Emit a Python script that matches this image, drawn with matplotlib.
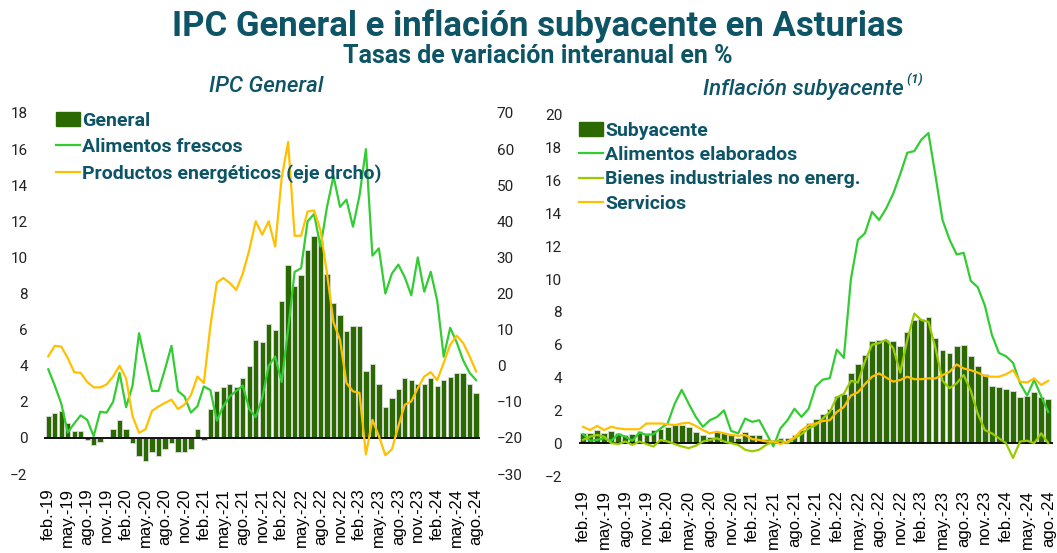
import numpy as np
import matplotlib
matplotlib.use("Agg")
import matplotlib.pyplot as plt
from matplotlib import font_manager
from matplotlib.patches import Patch
from matplotlib.lines import Line2D

# ---------------------------------------------------------------------------
# datos: tasas de variacion interanual (%), feb-19 .. ago-24 (67 meses)
# ---------------------------------------------------------------------------
TICK_LABELS = ["feb.-19", "may.-19", "ago.-19", "nov.-19",
               "feb.-20", "may.-20", "ago.-20", "nov.-20",
               "feb.-21", "may.-21", "ago.-21", "nov.-21",
               "feb.-22", "may.-22", "ago.-22", "nov.-22",
               "feb.-23", "may.-23", "ago.-23", "nov.-23",
               "feb.-24", "may.-24", "ago.-24"]

GENERAL = [1.2, 1.4, 1.5, 0.8, 0.4, 0.4, -0.1, -0.4, -0.2, 0.0, 0.5, 1.0,
           0.5, -0.3, -1.0, -1.3, -0.8, -1.0, -0.6, -0.3, -0.8, -0.8, -0.6, 0.5,
           -0.1, 1.6, 2.6, 2.8, 3.0, 2.8, 3.3, 4.0, 5.4, 5.3, 6.3, 6.0,
           7.6, 9.6, 8.4, 9.0, 10.4, 11.2, 10.9, 9.1, 7.5, 6.8, 5.9, 6.2,
           6.2, 3.7, 4.1, 3.0, 1.7, 2.2, 2.7, 3.3, 3.2, 3.0, 3.0, 3.3,
           2.9, 3.2, 3.4, 3.6, 3.6, 3.0, 2.5]

ALIM_FRESCOS = [3.8, 2.9, 1.9, 0.3, 0.8, 1.25, 1.0, 0.1, 1.45, 1.4, 2.0, 3.6,
                1.7, 2.9, 5.8, 4.2, 2.6, 2.6, 3.8, 5.1, 2.6, 2.3, 1.4, 1.75,
                2.85, 2.65, 0.95, 1.75, 2.3, 2.6, 2.9, 1.6, 1.15, 2.2, 4.0, 4.5,
                3.1, 6.0, 9.2, 9.4, 12.0, 12.4, 10.6, 12.8, 14.5, 12.8, 13.2, 11.7,
                13.4, 16.0, 10.1, 10.5, 8.0, 9.1, 9.6, 8.9, 7.9, 10.0, 8.1, 9.2,
                7.6, 4.5, 6.1, 5.3, 4.3, 3.6, 3.2]

ENERGIA = [2.6, 5.5, 5.3, 2.1, -1.8, -2.0, -4.5, -6.0, -6.0, -5.2, -3.0, 0.0,
           -3.5, -14.0, -18.6, -17.6, -12.5, -11.3, -10.3, -9.4, -12.0, -10.8, -8.2, -3.0,
           -4.8, 10.9, 23.0, 24.3, 22.9, 21.0, 25.5, 32.0, 40.0, 36.3, 40.0, 33.0,
           52.0, 62.0, 36.0, 36.0, 42.7, 43.0, 37.5, 25.5, 12.0, 7.2, -4.8, -7.1,
           -7.5, -24.6, -15.0, -19.5, -24.8, -23.2, -16.8, -10.8, -9.9, -6.2, -3.0, -1.8,
           -4.0, 0.8, 5.8, 8.3, 6.3, 2.6, -1.6]

SUBYACENTE = [0.6, 0.6, 0.8, 0.6, 0.75, 0.65, 0.5, 0.55, 0.75, 0.65, 0.8, 0.85,
              1.0, 1.1, 1.1, 1.0, 0.7, 0.5, 0.4, 0.7, 0.6, 0.5, 0.3, 0.7,
              0.5, 0.5, 0.25, 0.2, 0.3, 0.3, 0.5, 0.8, 1.2, 1.5, 1.8, 2.1,
              2.9, 3.0, 4.3, 4.8, 5.4, 6.2, 6.3, 6.3, 6.2, 5.9, 6.8, 7.5,
              7.55, 7.7, 6.4, 5.7, 5.5, 5.9, 6.0, 5.3, 4.7, 4.2, 3.5, 3.4,
              3.3, 3.2, 2.8, 2.85, 3.1, 2.8, 2.7]

ALIM_ELABORADOS = [0.55, 0.15, 0.2, 0.3, 0.15, 0.55, 0.4, 0.15, 0.65, 0.5, 0.55, 0.9,
                   1.2, 2.4, 3.25, 2.4, 1.6, 1.0, 1.4, 1.6, 2.0, 0.75, 0.6, 1.5,
                   1.3, 1.4, 0.6, -0.2, 0.9, 1.4, 2.1, 1.6, 2.1, 3.45, 3.87, 3.96,
                   5.7, 5.2, 10.0, 12.4, 12.8, 14.1, 13.6, 14.3, 15.2, 16.4, 17.7, 17.8,
                   18.5, 18.9, 16.3, 13.6, 12.4, 11.5, 11.6, 9.9, 9.5, 8.4, 6.6, 5.5,
                   5.3, 4.9, 3.65, 2.9, 3.85, 2.85, 1.9]

BIENES_IND = [0.2, 0.4, 0.5, 0.4, 0.0, -0.05, 0.1, -0.1, 0.1, -0.05, -0.2, 0.2,
              0.1, -0.05, -0.2, -0.3, -0.15, 0.1, 0.2, 0.3, 0.1, 0.0, -0.1, -0.4,
              -0.5, -0.4, -0.1, 0.1, 0.15, 0.0, 0.3, 0.55, 0.9, 1.1, 1.5, 1.9,
              2.8, 3.0, 3.8, 3.7, 5.0, 6.0, 6.1, 6.3, 5.8, 4.3, 6.3, 7.9,
              7.5, 7.4, 5.8, 3.8, 3.35, 3.65, 4.15, 3.2, 1.8, 0.8, 0.6, 0.3,
              0.0, -0.9, 0.1, 0.15, 0.0, 0.6, 0.0]

SERVICIOS = [1.0, 0.8, 1.05, 0.8, 1.0, 0.9, 0.85, 0.85, 0.85, 1.2, 1.2, 1.2,
             1.15, 1.1, 1.2, 1.25, 1.05, 0.8, 0.6, 0.7, 0.6, 0.5, 0.45, 0.5,
             0.25, 0.2, 0.1, 0.1, -0.05, 0.1, 0.35, 0.8, 1.1, 1.2, 1.35, 1.4,
             1.9, 2.2, 2.9, 3.1, 3.6, 4.05, 4.25, 4.0, 3.75, 3.85, 4.05, 3.9,
             3.9, 3.95, 3.95, 4.15, 4.35, 4.8, 4.55, 4.45, 4.3, 4.1, 4.05, 4.05,
             4.2, 4.45, 3.75, 3.7, 3.95, 3.55, 3.8]

# ---------------------------------------------------------------------------
# estilo
# ---------------------------------------------------------------------------
C_BAR = "#2b6a02"
C_VERDE = "#33cc33"
C_AMAR = "#ffc000"
C_LIMA = "#99cc00"
C_TEAL = "#0d5466"
C_TICK = "#222222"

_installed = {f.name for f in font_manager.fontManager.ttflist}


def pick(*names):
    for n in names:
        if n in _installed:
            return n
    return "DejaVu Sans"


F_TITLE = pick("Roboto", "Lato", "DejaVu Sans")
F_TICK = pick("Roboto", "DejaVu Sans")
F_XTICK = pick("Liberation Sans", "DejaVu Sans")

x = np.arange(len(GENERAL))
tick_pos = x[::3]

fig = plt.figure(figsize=(10.57, 5.53), dpi=100)
W, H = 1057, 553


def axes_px(left, top, right, bottom):
    return fig.add_axes([left / W, 1 - bottom / H, (right - left) / W, (bottom - top) / H])


def base_style(ax):
    for s in ax.spines.values():
        s.set_visible(False)
    ax.tick_params(length=0)
    ax.set_xlim(-0.6, len(x) - 0.4)
    ax.set_xticks(tick_pos)
    ax.set_xticklabels(TICK_LABELS, rotation=90, fontsize=12, family=F_XTICK,
                       color="black")
    ax.tick_params(axis="x", pad=10)
    ax.tick_params(axis="y", pad=12, labelsize=11, labelcolor=C_TICK)
    for lab in ax.get_yticklabels():
        lab.set_family(F_TICK)
    ax.axhline(0, color="black", linewidth=1.3, zorder=2)


LEG_PROP = {"family": F_TITLE, "weight": "bold", "size": 14}

# --- panel izquierdo: IPC General ------------------------------------------
axL = axes_px(44.4, 113, 480, 474)
axL.bar(x, GENERAL, width=0.82, color=C_BAR, edgecolor="#dcdcdc",
        linewidth=0.6, zorder=1)
axL.plot(x, ALIM_FRESCOS, color=C_VERDE, linewidth=1.6, zorder=3)
axL.set_ylim(-2, 18)
axL.set_yticks(range(-2, 19, 2))
base_style(axL)

axR = axL.twinx()
axR.plot(x, ENERGIA, color=C_AMAR, linewidth=1.6, zorder=4)
axR.set_ylim(-30, 70)
axR.set_yticks(range(-30, 71, 10))
for s in axR.spines.values():
    s.set_visible(False)
axR.tick_params(length=0, pad=12, labelsize=11, labelcolor=C_TICK)
for lab in axR.get_yticklabels():
    lab.set_family(F_TICK)

hL = [Patch(facecolor=C_BAR, edgecolor=C_BAR),
      Line2D([], [], color=C_VERDE, linewidth=1.6),
      Line2D([], [], color=C_AMAR, linewidth=1.6)]
legL = axR.legend(hL, ["General", "Alimentos frescos",
                       "Productos energéticos (eje drcho)"],
                  loc="upper left", bbox_to_anchor=(56 / W, 1 - 112 / H),
                  bbox_transform=fig.transFigure, frameon=False,
                  handlelength=1.25, handleheight=0.7, handletextpad=0.1,
                  labelspacing=0.42, borderaxespad=0, borderpad=0,
                  prop=LEG_PROP)
for t in legL.get_texts():
    t.set_color(C_TEAL)

# --- panel derecho: inflacion subyacente -----------------------------------
ax2 = axes_px(578.8, 115, 1052.5, 476)
ax2.bar(x, SUBYACENTE, width=0.82, color=C_BAR, edgecolor="#dcdcdc",
        linewidth=0.6, zorder=1)
ax2.plot(x, ALIM_ELABORADOS, color=C_VERDE, linewidth=1.6, zorder=3)
ax2.plot(x, BIENES_IND, color=C_LIMA, linewidth=1.6, zorder=3)
ax2.plot(x, SERVICIOS, color=C_AMAR, linewidth=1.6, zorder=3)
ax2.set_ylim(-2, 20)
ax2.set_yticks(range(-2, 21, 2))
base_style(ax2)

h2 = [Patch(facecolor=C_BAR, edgecolor=C_BAR),
      Line2D([], [], color=C_VERDE, linewidth=1.6),
      Line2D([], [], color=C_LIMA, linewidth=1.6),
      Line2D([], [], color=C_AMAR, linewidth=1.6)]
leg2 = ax2.legend(h2, ["Subyacente", "Alimentos elaborados",
                       "Bienes industriales no energ.", "Servicios"],
                  loc="upper left", bbox_to_anchor=(579 / W, 1 - 122 / H),
                  bbox_transform=fig.transFigure, frameon=False,
                  handlelength=1.25, handleheight=0.7, handletextpad=0.1,
                  labelspacing=0.32, borderaxespad=0, borderpad=0,
                  prop=LEG_PROP)
for t in leg2.get_texts():
    t.set_color(C_TEAL)

# --- titulos -----------------------------------------------------------------
fig.text(538 / W, 1 - 26 / H, "IPC General e inflación subyacente en Asturias",
         ha="center", va="center", fontsize=25, weight="bold",
         family=F_TITLE, color=C_TEAL)
fig.text(538 / W, 1 - 56 / H, "Tasas de variación interanual en %",
         ha="center", va="center", fontsize=18, weight="bold",
         family=F_TITLE, color=C_TEAL)
fig.text(266 / W, 1 - 87 / H, "IPC General", ha="center", va="center",
         fontsize=16, style="italic", weight="medium", family=F_TITLE,
         color=C_TEAL)
t_sub = fig.text(703 / W, 1 - 90 / H, "Inflación subyacente", ha="left",
                 va="center", fontsize=16, style="italic", weight="medium",
                 family=F_TITLE, color=C_TEAL)
ann = matplotlib.text.Annotation(" (1)", xy=(1.0, 0.7), xycoords=t_sub,
                                 va="bottom", ha="left", fontsize=9,
                                 style="italic", weight="bold",
                                 family=F_TITLE, color=C_TEAL)
fig.add_artist(ann)

fig.savefig("out.png", dpi=100)
